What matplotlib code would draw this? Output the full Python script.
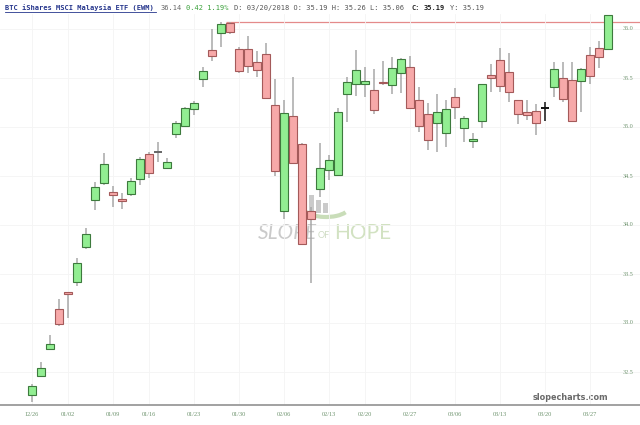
import matplotlib
matplotlib.use("Agg")
import matplotlib.pyplot as plt
import matplotlib.transforms as mtrans
import numpy as np
import pandas as pd
from matplotlib.patches import Rectangle, Arc

# ---------------- data ----------------
holidays = ["2018-01-01", "2018-01-15", "2018-02-19"]
dates = [d for d in pd.bdate_range("2017-12-26", "2018-03-29") if d.strftime("%Y-%m-%d") not in holidays]

opens = [32.27, 32.46, 32.73, 33.14, 33.31, 33.42, 33.78, 34.26, 34.43, 34.34,
         34.26, 34.32, 34.47, 34.72, 34.74, 34.58, 34.93, 35.01, 35.18, 35.49,
         35.79, 35.96, 36.06, 35.80, 35.80, 35.66, 35.74, 35.22, 34.14, 35.11,
         34.83, 34.14, 34.37, 34.56, 34.51, 35.34, 35.44, 35.44, 35.38, 35.46,
         35.43, 35.55, 35.61, 35.28, 35.13, 35.04, 34.94, 35.31, 34.99, 34.86,
         35.06, 35.53, 35.68, 35.56, 35.28, 35.15, 35.16, 35.19, 35.41, 35.50,
         35.48, 35.47, 35.73, 35.81, 35.80]
highs = [32.38, 32.60, 32.88, 33.24, 33.32, 33.66, 33.97, 34.44, 34.73, 34.40,
         34.33, 34.48, 34.69, 34.74, 34.85, 34.68, 35.06, 35.20, 35.27, 35.61,
         36.00, 36.07, 36.07, 35.82, 35.93, 35.78, 35.86, 35.49, 35.28, 35.51,
         34.84, 34.18, 34.84, 34.71, 35.19, 35.51, 35.79, 35.61, 35.59, 35.67,
         35.71, 35.70, 35.72, 35.41, 35.24, 35.34, 35.28, 35.40, 35.11, 34.94,
         35.44, 35.64, 35.81, 35.76, 35.28, 35.28, 35.23, 35.26, 35.66, 35.66,
         35.66, 35.60, 35.82, 35.88, 36.14]
lows = [32.19, 32.45, 32.72, 32.97, 33.05, 33.38, 33.76, 34.15, 34.41, 34.18,
        34.16, 34.30, 34.41, 34.48, 34.64, 34.57, 34.89, 35.00, 35.12, 35.41,
        35.67, 35.82, 35.95, 35.55, 35.55, 35.51, 35.29, 34.50, 34.06, 34.62,
        33.80, 33.41, 34.29, 34.46, 34.50, 35.05, 35.32, 35.31, 35.13, 35.43,
        35.34, 35.35, 35.18, 34.95, 34.77, 34.74, 34.80, 35.08, 34.85, 34.79,
        34.99, 35.36, 35.36, 35.26, 35.03, 35.07, 34.92, 35.06, 35.31, 35.26,
        35.05, 35.15, 35.44, 35.60, 35.80]
closes = [32.36, 32.54, 32.79, 32.99, 33.30, 33.61, 33.91, 34.39, 34.62, 34.31,
          34.25, 34.45, 34.67, 34.53, 34.74, 34.64, 35.04, 35.19, 35.24, 35.57,
          35.72, 36.05, 35.97, 35.57, 35.62, 35.58, 35.30, 34.55, 35.14, 34.63,
          33.81, 34.06, 34.58, 34.66, 35.15, 35.46, 35.58, 35.47, 35.17, 35.45,
          35.60, 35.69, 35.19, 35.01, 34.87, 35.15, 35.18, 35.20, 35.09, 34.88,
          35.44, 35.50, 35.42, 35.36, 35.13, 35.12, 35.04, 35.19, 35.59, 35.29,
          35.06, 35.59, 35.52, 35.71, 36.14]

selected = 57            # 03/20/2018, candle under the cursor
resistance = 36.07
ytick_vals = [32.5, 33.0, 33.5, 34.0, 34.5, 35.0, 35.5, 36.0]
tick_dates = ["12/26", "01/02", "01/09", "01/16", "01/23", "01/30", "02/06",
              "02/13", "02/20", "02/27", "03/06", "03/13", "03/20", "03/27"]

# ---------------- figure ----------------
W, H = 640, 425
fig = plt.figure(figsize=(W / 100, H / 100), dpi=100)
fig.patch.set_facecolor("white")

bg = fig.add_axes([0, 0, 1, 1], zorder=0)
bg.set_xlim(0, W)
bg.set_ylim(H, 0)
bg.axis("off")

ax = fig.add_axes([0, 20 / H, 1, (405 - 14) / H], zorder=1)
ax.patch.set_alpha(0)

n = len(opens)
x = np.arange(n)
o = np.array(opens); c = np.array(closes); hi = np.array(highs); lo = np.array(lows)

up = c > o
down = c < o
flat = ~(up | down)

g_face, g_edge = "#92ee92", "#3d7a3d"
r_face, r_edge = "#f7a9a9", "#a45a5a"
wick_col = "#a8a8a8"

wc = [("#111111" if i == selected else wick_col) for i in range(n)]
ax.vlines(x, lo, hi, colors=wc, linewidth=1.1, zorder=2)

bw = 0.82
minh = 0.012
bottoms = np.minimum(o, c)
heights = np.maximum(np.abs(c - o), minh)
ax.bar(x[up], heights[up], bw, bottom=bottoms[up], color=g_face, edgecolor=g_edge, linewidth=0.8, zorder=3)
ax.bar(x[down], heights[down], bw, bottom=bottoms[down], color=r_face, edgecolor=r_edge, linewidth=0.8, zorder=3)
for i in x[flat]:
    col = "#111111" if i == selected else "#666666"
    ax.hlines(o[i], i - bw / 2, i + bw / 2, colors=col, linewidth=1.4, zorder=3)

ax.hlines(resistance, 21.6, n + 5, colors="#e48a8a", linewidth=0.9, zorder=1.5)

ax.set_xlim(-32 / 9, (W - 32) / 9)
ax.set_ylim(36 - (405 - 29) / 98, 36 + 15 / 98)

ax.set_yticks(ytick_vals)
date_strs = [d.strftime("%m/%d") for d in dates]
tick_pos = [date_strs.index(t) for t in tick_dates]
ax.set_xticks(tick_pos)
ax.grid(True, color="#f4f4f4", linewidth=0.6, zorder=0)
ax.set_yticklabels([])
ax.set_xticklabels(tick_dates, fontsize=4.6, color="#6f946f", family="Liberation Serif")
ax.tick_params(axis="x", length=0, pad=5)
ax.tick_params(axis="y", length=0)

for s in ["top", "left", "right"]:
    ax.spines[s].set_visible(False)
ax.spines["bottom"].set_color("#9a9a9a")
ax.spines["bottom"].set_linewidth(1.3)

trans = mtrans.blended_transform_factory(ax.transAxes, ax.transData)
for v in ytick_vals:
    ax.text(628 / W, v, f"{v:.1f}", transform=trans, fontsize=4.4, color="#6f946f",
            family="Liberation Serif", ha="center", va="center")

# ---------------- header ----------------
cw = 4.32
x0 = 5
yh = 8
mono = "DejaVu Sans Mono"
fs = 5.05
pieces = [
    ("BTC iShares MSCI Malaysia ETF (EWM)", "#25358c", "bold"),
    (" 36.14", "#666666", "normal"),
    (" 0.42 1.19%", "#3aa03a", "normal"),
    (" D: 03/20/2018 O: 35.19 H: 35.26 L: 35.06", "#555555", "normal"),
    (" C:", "#222222", "bold"),
    (" 35.19", "#222222", "bold"),
    (" Y: 35.19", "#555555", "normal"),
]
pos = 0
for txt, col, wt in pieces:
    lead = len(txt) - len(txt.lstrip(" "))
    bg.text(x0 + (pos + lead) * cw, yh, txt.lstrip(" "), family=mono, fontsize=fs, color=col,
            weight=wt, ha="left", va="center")
    pos += len(txt)
bg.plot([x0, x0 + 35 * cw], [12, 12], color="#25358c", linewidth=0.6)

# ---------------- watermark ----------------
bar_specs = [(302, 190, 213), (309, 195, 213), (316, 200, 213), (323, 203, 213)]
for bx, top, bot in bar_specs:
    bg.add_patch(Rectangle((bx, top), 5, bot - top, facecolor="#bdbdbd", edgecolor="none", alpha=0.8))
bg.add_patch(Arc((326, 207), 46, 20, theta1=15, theta2=170, color="#c9ddb9", linewidth=3))
bg.text(258, 233, "SLOPE", family="Lato", fontsize=15, color="#cacaca", style="italic",
        ha="left", va="center")
bg.text(318, 235, "OF", family="Lato", fontsize=6.5, color="#cfdcc4", ha="left", va="center")
bg.text(334, 233, "HOPE", family="Lato", fontsize=15, color="#d2e2c2", ha="left", va="center")

bg.text(608, 397, "slopecharts.com", family="DejaVu Sans", fontsize=5.9, color="#6a6a6a",
        weight="bold", ha="right", va="center")

fig.savefig("out.png", dpi=100)
